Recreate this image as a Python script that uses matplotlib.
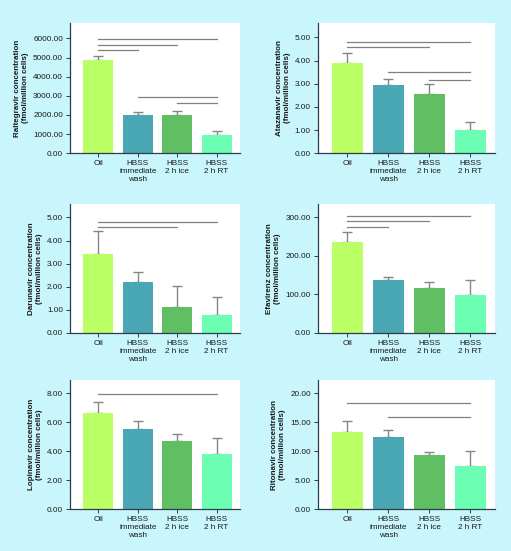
import matplotlib
matplotlib.use("Agg")
import matplotlib.pyplot as plt

# DATOS

grupos = ["Oil", "HBSS\nimmediate\nwash", "HBSS\n2 h ice", "HBSS\n2 h RT"]
colores = ["#bbff66", "#4aa8b4", "#5fbf62", "#6cffb4"]

farmacos = ["Raltegravir", "Atazanavir", "Darunavir", "Efavirenz", "Lopinavir", "Ritonavir"]

raltegravir = [4880, 2000, 2000, 950]
raltegravir_err = [220, 150, 220, 200]
atazanavir = [3.90, 2.95, 2.55, 1.02]
atazanavir_err = [0.45, 0.25, 0.42, 0.33]
darunavir = [3.42, 2.20, 1.12, 0.77]
darunavir_err = [0.98, 0.42, 0.93, 0.80]
efavirenz = [235, 138, 116, 98]
efavirenz_err = [28, 8, 15, 39]
lopinavir = [6.65, 5.52, 4.72, 3.78]
lopinavir_err = [0.75, 0.60, 0.46, 1.17]
ritonavir = [13.3, 12.5, 9.4, 7.5]
ritonavir_err = [2.0, 1.2, 0.4, 2.6]

valores = [raltegravir, atazanavir, darunavir, efavirenz, lopinavir, ritonavir]
errores = [raltegravir_err, atazanavir_err, darunavir_err, efavirenz_err, lopinavir_err, ritonavir_err]

# lineas de significancia: (desde, hasta, altura)
lineas = [
    [(0, 3, 5960), (0, 2, 5650), (0, 1, 5400), (1, 3, 2920), (2, 3, 2650)],
    [(0, 3, 4.80), (0, 2, 4.57), (1, 3, 3.50), (2, 3, 3.15)],
    [(0, 3, 4.82), (0, 2, 4.58)],
    [(0, 3, 304), (0, 2, 291), (0, 1, 275)],
    [(0, 3, 7.93)],
    [(0, 3, 18.3), (1, 3, 15.85)],
]

ticks_y = [
    [0, 1000, 2000, 3000, 4000, 5000, 6000],
    [0, 1, 2, 3, 4, 5],
    [0, 1, 2, 3, 4, 5],
    [0, 100, 200, 300],
    [0, 2, 4, 6, 8],
    [0, 5, 10, 15, 20],
]
limites_y = [6800, 5.62, 5.59, 335, 8.92, 22.3]

# GRAFICO

plt.rcParams["font.family"] = ["Liberation Sans", "DejaVu Sans"]

fondo = "#c8f6fc"
fig = plt.figure(figsize=(5.11, 5.51), dpi=100, facecolor=fondo)

posiciones = [
    [0.137, 0.722, 0.333, 0.236],
    [0.622, 0.722, 0.346, 0.236],
    [0.137, 0.396, 0.333, 0.234],
    [0.622, 0.396, 0.346, 0.234],
    [0.137, 0.076, 0.333, 0.234],
    [0.622, 0.076, 0.346, 0.234],
]

x = range(len(grupos))

for k in range(6):
    ax = fig.add_axes(posiciones[k])
    ax.set_facecolor("white")

    ax.bar(x, valores[k], width=0.76, color=colores, zorder=2)
    ax.errorbar(
        x, valores[k],
        yerr=[[0] * 4, errores[k]],
        fmt="none", ecolor="#858585", elinewidth=1.0,
        capsize=3.5, capthick=1.0, zorder=1
    )

    for i, j, h in lineas[k]:
        ax.plot([i, j], [h, h], color="#808080", lw=0.9, zorder=3)

    ax.set_xlim(-0.72, 3.6)
    ax.set_ylim(0, limites_y[k])
    ax.set_yticks(ticks_y[k])
    ax.set_yticklabels([f"{t:.2f}" for t in ticks_y[k]])
    ax.set_xticks(list(x))
    ax.set_xticklabels(grupos)

    for lado in ["top", "right"]:
        ax.spines[lado].set_visible(False)
    for lado in ["left", "bottom"]:
        ax.spines[lado].set_color("#2e3c4a")
        ax.spines[lado].set_linewidth(0.9)

    ax.tick_params(axis="both", labelsize=5.9, colors="#2e3c4a",
                   labelcolor="#1a1a1a", length=3, width=0.7, pad=2)

    ax.set_ylabel(
        farmacos[k] + " concentration\n(fmol/million cells)",
        fontsize=5.8, fontweight="bold", color="#1a1a1a", labelpad=3
    )

plt.savefig("out.png", dpi=100, facecolor=fondo)
plt.close()
